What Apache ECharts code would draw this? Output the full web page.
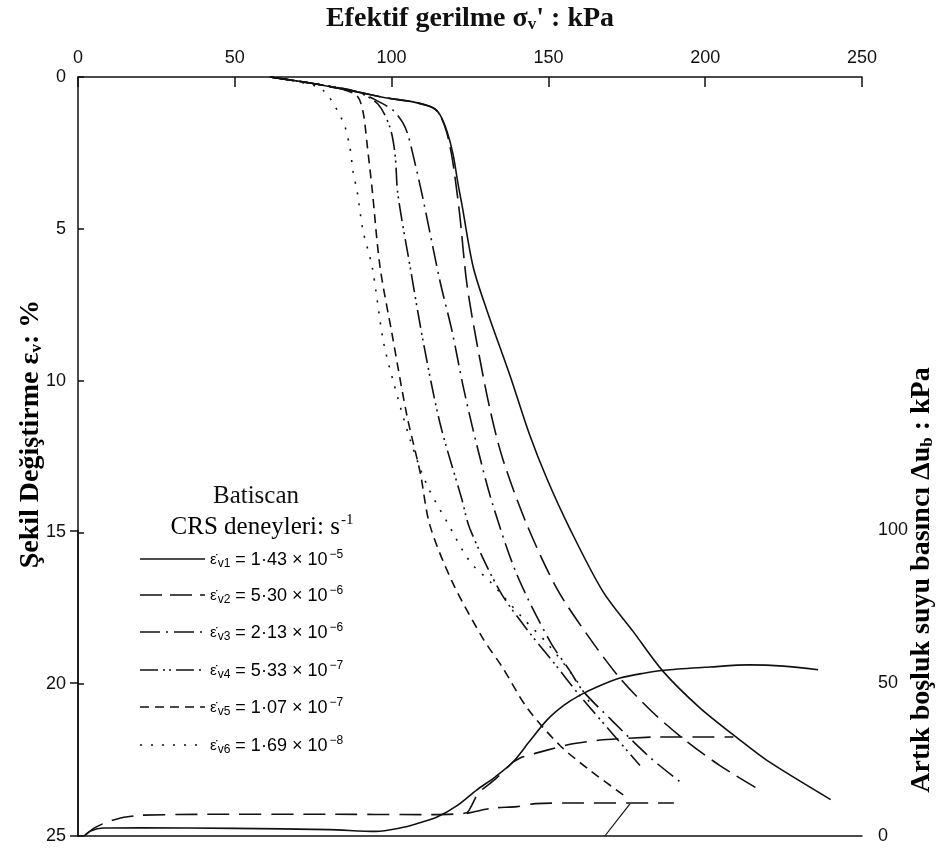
<!DOCTYPE html>
<html>
<head>
<meta charset="utf-8">
<script src="https://cdn.jsdelivr.net/npm/echarts@6/dist/echarts.min.js"></script>
<style>
  html, body { margin: 0; padding: 0; background: #ffffff; }
  #chart { width: 940px; height: 854px; }
</style>
</head>
<body>
<div id="chart"></div>
<script>
// Batiscan clay, CRS tests: effective stress (kPa) vs vertical strain (%)
const strainV1 = [[61.2,0],[74,0.2],[89,0.49],[98.5,0.69],[106.8,0.82],[113.2,1.01],[115.4,1.24],[117.7,1.8],[119.6,2.55],[121.2,3.53],[122.4,4.19],[126,6.25],[130.4,7.69],[137.8,9.85],[144.1,11.81],[149.6,13.25],[156.9,14.89],[167.4,16.95],[177,18.26],[186.5,19.57],[198.3,20.78],[210.1,21.76],[219.7,22.51],[240,23.8]];
const strainV2 = [[61.2,0],[74,0.2],[89,0.49],[98.5,0.69],[106.8,0.82],[113.2,1.01],[115.4,1.25],[117.5,1.8],[119.2,2.6],[120.6,3.6],[121.8,4.61],[124,6.81],[127.2,8.77],[131.4,10.96],[135.5,12.6],[143.2,14.76],[152.7,16.85],[162.3,18.36],[172.8,19.8],[183.4,20.94],[194.5,21.92],[204.7,22.68],[216,23.4]];
const strainV3 = [[61.2,0],[74,0.2],[89,0.49],[95.7,0.8],[100.5,1.1],[103.6,1.51],[105.2,1.9],[106.8,2.55],[109.7,3.86],[115.4,6.71],[119.3,8.38],[122.8,10.18],[127.2,12.14],[132.3,14.1],[140,16.4],[150.5,18.59],[156.9,19.57],[161,20.22],[170.3,21.2],[182.4,22.41],[193,23.3]];
const strainV4 = [[61.2,0],[74,0.2],[89,0.49],[95.7,0.9],[99.5,1.67],[101.1,2.55],[102,3.86],[105.9,6.25],[110,8.67],[115.4,11.39],[122.4,13.91],[125,14.89],[134.6,16.95],[144.1,18.32],[152.1,19.34],[160.1,20.39],[169.6,21.53],[179.2,22.68]];
const strainV5 = [[61.2,0],[74,0.2],[84,0.4],[89,0.62],[90.9,1.15],[92.2,2.23],[93.8,3.7],[96.3,6.25],[100.1,8.44],[104.9,11.16],[109.1,13.02],[112.2,14.76],[119.3,16.62],[129.1,18.49],[135.5,19.47],[143.2,20.78],[153.7,22.02],[163.3,22.84],[175.4,23.76]];
const strainV6 = [[61.2,0],[70,0.15],[78.1,0.43],[84.5,1.47],[86.7,2.32],[87.7,3.11],[89,3.76],[90.9,5.07],[93.8,6.25],[97.3,8.67],[100.4,9.98],[105.9,11.94],[111.3,13.45],[117.7,14.66],[125,15.97],[131.4,16.62],[141.9,17.83],[149.6,18.65],[159.1,19.9],[164.2,20.81]];

// Excess pore pressure (kPa) vs effective stress (kPa)
const poreV1 = [[2,0],[4,1.6],[8,2.6],[20,2.7],[50,2.5],[80,2.1],[95,1.5],[102.7,2.6],[108,4],[114.5,6.2],[121,10],[127.2,15.1],[133,19.3],[138.7,24.2],[144,31],[149.6,38],[155,42.8],[160.1,46.1],[166,49],[172.8,51.7],[180,53.2],[187.8,54.3],[201.5,55.3],[214,56],[225,55.6],[236,54.4]];
const poreV2 = [[2,0],[5,2.5],[9,4.5],[14,6],[20,6.8],[40,7.1],[80,7.1],[110,7.0],[124,7.6],[127.6,14.1],[133,18.5],[138.7,24.2],[141.9,25.9],[149.6,28.1],[155.9,29.8],[166.5,31.4],[184.6,32.4],[201.5,32.4],[209,32.4]];
const poreV456 = [[124,7.4],[132,9.1],[140,9.6],[146,10.6],[160,10.8],[190,10.8]];
const poreLeader = [[168,0],[176,10.5]];

// Axis ranges and ticks
const stressRange = [0, 250, 50];
const strainRange = [0, 25, 5];
const poreRange = [0, 100, 50];

// Strain-rate legend entries
const rateNames = ['v1', 'v2', 'v3', 'v4', 'v5', 'v6'];
const rateMantissas = ['1·43', '5·30', '2·13', '5·33', '1·07', '1·69'];
const rateExponents = ['−5', '−6', '−6', '−7', '−7', '−8'];

const SANS = '"Liberation Sans", Arimo, Arial, sans-serif';
const SERIF = '"Liberation Serif", "DejaVu Serif", serif';
const INK = '#111';

const dashPatterns = [
  'solid',
  [22, 8],
  [20, 6, 2, 6],
  [18, 5, 2, 4, 2, 5],
  [9, 6],
  [2, 9]
];
const strainSets = [strainV1, strainV2, strainV3, strainV4, strainV5, strainV6];

const chart = echarts.init(document.getElementById('chart'), null, { renderer: 'canvas' });

const GRID_TOP = 72, GRID_BOTTOM = 18, GRID_SIDE = 78, H = 854;
const plotH = H - GRID_TOP - GRID_BOTTOM;
// right-hand pore pressure axis: 0..100 kPa spans strain 25..15 %
const poreTop = GRID_TOP + plotH * (15 / 25);

const titleRich = {
  a: { fontFamily: SERIF, fontSize: 28, fontWeight: 'bold', color: INK },
  s: { fontFamily: SERIF, fontSize: 17, fontWeight: 'bold', color: INK, padding: [11, 0, 0, 0] }
};

const strainSeries = strainSets.map((d, i) => ({
  name: 'ε̇' + rateNames[i],
  type: 'line',
  xAxisIndex: 0, yAxisIndex: 0,
  data: d,
  smooth: 0.3,
  symbol: 'none',
  silent: true,
  lineStyle: { color: INK, width: 1.6, type: dashPatterns[i] }
}));

const poreStyle = (t) => ({ color: INK, width: 1.6, type: t });

const poreSeries = [
  { name: 'Δu v1', type: 'line', xAxisIndex: 2, yAxisIndex: 1, data: poreV1, smooth: 0.3, symbol: 'none', silent: true, lineStyle: poreStyle('solid') },
  { name: 'Δu v2', type: 'line', xAxisIndex: 2, yAxisIndex: 1, data: poreV2, smooth: 0.15, symbol: 'none', silent: true, lineStyle: poreStyle([22, 10]) },
  { name: 'Δu v4-v6', type: 'line', xAxisIndex: 2, yAxisIndex: 1, data: poreV456, smooth: 0.3, symbol: 'none', silent: true, lineStyle: poreStyle([22, 10]) },
  {
    name: 'leader', type: 'line', xAxisIndex: 2, yAxisIndex: 1, symbol: 'none', silent: true,
    lineStyle: { color: INK, width: 1.2 },
    data: [
      poreLeader[0],
      {
        value: poreLeader[1],
        label: {
          show: true, position: 'right', distance: 4, offset: [0, 12],
          formatter: '{e|ε̇}{b|v4}{e|,  ε̇}{b|v5}  {v|ve}  {e|ε̇}{b|v6}',
          rich: {
            e: { fontFamily: SANS, fontSize: 16, color: INK },
            b: { fontFamily: SANS, fontSize: 13, color: INK, padding: [6, 0, 0, 1] },
            v: { fontFamily: SERIF, fontSize: 22, color: INK }
          }
        }
      }
    ]
  }
];

// Legend drawn as a graphic block inside the plot
const legendX1 = 140, legendX2 = 205, legendTextX = 210;
const legendRowY = [559, 595, 632, 670, 707, 745];
const legendGraphics = [];
legendGraphics.push({
  type: 'text', x: 256, y: 496, silent: true,
  style: { text: 'Batiscan', font: '25px ' + SERIF, fill: INK, align: 'center', verticalAlign: 'middle' }
});
legendGraphics.push({
  type: 'text', x: 262, y: 527, silent: true,
  style: {
    text: '{a|CRS deneyleri: s}{p|-1}',
    align: 'center', verticalAlign: 'middle',
    rich: {
      a: { fontFamily: SERIF, fontSize: 25, color: INK },
      p: { fontFamily: SERIF, fontSize: 15, color: INK, padding: [0, 0, 14, 1] }
    }
  }
});
rateNames.forEach((n, i) => {
  const y = legendRowY[i];
  legendGraphics.push({
    type: 'line', silent: true,
    shape: { x1: legendX1, y1: y, x2: legendX2, y2: y },
    style: { stroke: INK, lineWidth: 1.5, lineDash: dashPatterns[i] === 'solid' ? null : dashPatterns[i] }
  });
  legendGraphics.push({
    type: 'text', silent: true, x: legendTextX, y: y + 1,
    style: {
      text: '{e|ε̇}{b|' + n + '}{t| = ' + rateMantissas[i] + ' × 10}{p|' + rateExponents[i] + '}',
      verticalAlign: 'middle',
      rich: {
        e: { fontFamily: SANS, fontSize: 15, color: INK, padding: [0, 1, 0, 0] },
        b: { fontFamily: SANS, fontSize: 12, color: INK, padding: [8, 0, 0, 0] },
        t: { fontFamily: SANS, fontSize: 18, color: INK },
        p: { fontFamily: SANS, fontSize: 12, color: INK, padding: [0, 0, 10, 2] }
      }
    }
  });
});
// Axis titles on the two vertical sides
legendGraphics.push({
  type: 'text', silent: true, x: 31, y: 434, rotation: Math.PI / 2,
  style: {
    text: '{a|Şekil Değiştirme ε}{s|v}{a|: %}',
    align: 'center', verticalAlign: 'middle',
    rich: titleRich
  }
});
legendGraphics.push({
  type: 'text', silent: true, x: 922, y: 580, rotation: Math.PI / 2,
  style: {
    text: '{a|Artık boşluk suyu basıncı Δu}{s|b}{a| : kPa}',
    align: 'center', verticalAlign: 'middle',
    rich: titleRich
  }
});

const axisLineStyle = { color: INK, width: 1.5 };

const option = {
  animation: false,
  backgroundColor: '#ffffff',
  grid: [
    { left: GRID_SIDE, right: GRID_SIDE, top: GRID_TOP, bottom: GRID_BOTTOM },
    { left: GRID_SIDE, right: GRID_SIDE, top: poreTop, bottom: GRID_BOTTOM }
  ],
  xAxis: [
    {
      gridIndex: 0, type: 'value', position: 'top',
      min: stressRange[0], max: stressRange[1], interval: stressRange[2],
      axisLine: { show: true, lineStyle: axisLineStyle },
      axisTick: { show: true, inside: true, length: 10, lineStyle: axisLineStyle },
      axisLabel: { color: INK, fontSize: 18, fontFamily: SANS, margin: 10 },
      splitLine: { show: false },
      name: '{a|Efektif gerilme σ}{s|v}{a|\' : kPa}',
      nameLocation: 'middle', nameGap: 44,
      nameTextStyle: { rich: titleRich }
    },
    {
      gridIndex: 0, type: 'value', position: 'bottom',
      min: stressRange[0], max: stressRange[1],
      axisLine: { show: true, lineStyle: axisLineStyle },
      axisTick: { show: false }, axisLabel: { show: false }, splitLine: { show: false }
    },
    {
      gridIndex: 1, type: 'value', show: false,
      min: stressRange[0], max: stressRange[1]
    }
  ],
  yAxis: [
    {
      gridIndex: 0, type: 'value', inverse: true, position: 'left',
      min: strainRange[0], max: strainRange[1], interval: strainRange[2],
      axisLine: { show: true, lineStyle: axisLineStyle },
      axisTick: { show: true, inside: true, length: 6, lineStyle: axisLineStyle },
      axisLabel: { color: INK, fontSize: 18, fontFamily: SANS, margin: 12 },
      splitLine: { show: false }
    },
    {
      gridIndex: 1, type: 'value', position: 'right',
      min: poreRange[0], max: poreRange[1], interval: poreRange[2],
      axisLine: { show: true, lineStyle: axisLineStyle },
      axisTick: { show: true, inside: true, length: 8, lineStyle: axisLineStyle },
      axisLabel: { color: INK, fontSize: 18, fontFamily: SANS, margin: 16 },
      splitLine: { show: false }
    }
  ],
  graphic: legendGraphics,
  series: strainSeries.concat(poreSeries)
};

chart.setOption(option);
</script>
</body>
</html>
